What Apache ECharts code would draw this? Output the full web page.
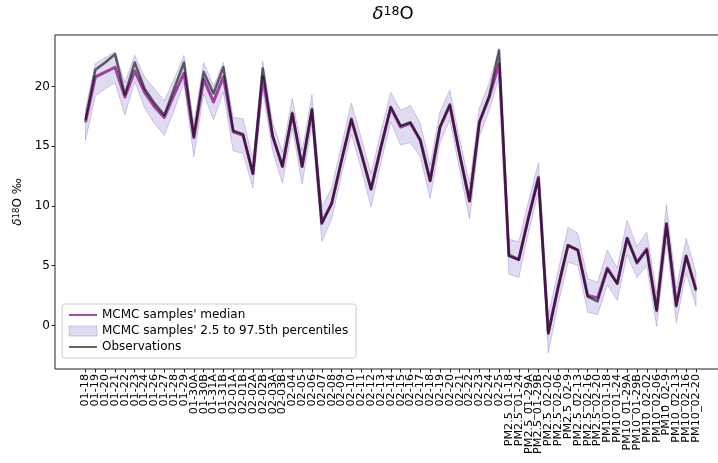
<!DOCTYPE html>
<html><head><meta charset="utf-8">
<script src="https://cdn.jsdelivr.net/npm/echarts@6/dist/echarts.min.js"></script>
<style>html,body{margin:0;padding:0;background:#fff}#c{width:718px;height:463px}</style>
</head><body><div id="c"></div>
<script>
const categories = ['01-18','01-19','01-20','01-21','01-22','01-23','01-24','01-26','01-27','01-28','01-29',
  '01-30A','01-30B','01-31A','01-31B','02-01A','02-01B','02-02A','02-02B','02-03A','02-03B',
  '02-04','02-05','02-06','02-07','02-08','02-09','02-10','02-11','02-12','02-13','02-14','02-15',
  '02-16','02-17','02-18','02-19','02-20','02-21','02-22','02-23','02-24','02-25',
  'PM2.5_01-18','PM2.5_01-24','PM2.5_01-29A','PM2.5_01-29B','PM2.5_02-02','PM2.5_02-06','PM2.5_02-9',
  'PM2.5_02-13','PM2.5_02-16','PM2.5_02-20',
  'PM10_01-18','PM10_01-24','PM10_01-29A','PM10_01-29B','PM10_02-02','PM10_02-06','PM10_02-9',
  'PM10_02-13','PM10_02-16','PM10_02-20'];
const median = [17.0,20.8,21.2,21.6,19.1,21.3,19.5,18.3,17.4,19.3,21.1,
  15.7,20.6,18.7,20.8,16.2,15.9,12.7,20.8,15.8,13.3,
  17.7,13.3,18.0,8.6,10.2,13.8,17.2,14.4,11.4,14.9,18.2,16.6,
  16.9,15.5,12.1,16.6,18.4,14.3,10.4,17.0,19.1,21.9,
  5.9,5.5,9.1,12.4,-0.6,3.2,6.7,6.3,2.5,2.3,
  4.8,3.5,7.3,5.3,6.4,1.3,8.5,1.7,5.8,3.0];
const observations = [17.2,21.4,22.0,22.7,19.3,22.0,19.8,18.6,17.6,19.8,22.0,
  15.8,21.2,19.4,21.6,16.3,16.0,12.7,21.5,15.9,13.3,
  17.8,13.3,18.1,8.5,10.2,13.8,17.3,14.4,11.4,14.9,18.3,16.7,
  17.0,15.5,12.1,16.6,18.5,14.3,10.4,17.0,19.2,23.0,
  5.8,5.5,9.0,12.3,-0.7,3.2,6.7,6.3,2.4,2.0,
  4.7,3.5,7.3,5.2,6.3,1.2,8.5,1.6,5.8,2.9];
const lower = [15.5,19.2,19.8,20.3,17.6,20.4,18.2,16.9,15.9,18.0,20.3,
  14.1,19.4,17.2,19.5,14.6,14.4,11.5,19.7,14.6,11.9,
  16.5,11.8,16.8,7.0,8.9,12.6,16.0,13.1,9.9,13.6,17.0,15.1,
  15.3,14.1,10.6,15.3,17.2,13.0,8.9,15.8,18.0,20.8,
  4.3,4.0,7.8,11.2,-2.3,1.8,5.3,5.0,1.1,0.9,
  3.4,2.1,5.9,4.0,5.0,-0.1,7.0,0.2,4.4,1.6];
const upper = [18.1,21.9,22.4,22.9,20.3,22.6,20.8,19.8,18.8,20.6,22.6,
  16.9,22.0,20.0,22.0,17.4,17.3,13.9,22.1,17.0,14.5,
  19.0,14.6,19.3,9.9,11.5,15.1,18.6,15.7,12.7,16.2,19.5,18.0,
  18.4,16.9,13.4,17.9,19.7,15.6,11.8,18.2,20.3,23.2,
  7.2,7.0,10.4,13.6,0.8,4.6,8.2,7.7,3.9,3.6,
  6.3,4.8,8.8,6.6,7.8,2.6,10.1,3.1,7.3,4.4];
const yTicks = [0,5,10,15,20];

const N_MED = "MCMC samples' median";
const N_BAND = "MCMC samples' 2.5 to 97.5th percentiles";
const N_OBS = 'Observations';
const FONT = 'DejaVu Sans';
const bandFill = 'rgba(120,90,190,0.22)';
const bandEdge = 'rgba(120,90,190,0.30)';
const medColor = 'rgba(128,0,128,0.7)';
const obsColor = 'rgba(0,0,0,0.6)';
const Y_MIN = -3.65, Y_MAX = 24.3;

const chart = echarts.init(document.getElementById('c'), null, {renderer: 'canvas'});
const option = {
  animation: false,
  backgroundColor: '#fff',
  textStyle: {fontFamily: FONT},
  title: {
    text: '{d|δ}{s|18}{o|O}', left: 393, top: 5, textAlign: 'center', padding: 0,
    textStyle: {fontWeight: 'normal', rich: {
      d: {fontSize: 18, fontStyle: 'italic', fontWeight: 'normal', fontFamily: FONT, color: '#000', verticalAlign: 'bottom'},
      s: {fontSize: 12.5, fontWeight: 'normal', fontFamily: FONT, color: '#000', verticalAlign: 'top'},
      o: {fontSize: 18, fontWeight: 'normal', fontFamily: FONT, color: '#000', verticalAlign: 'bottom'}
    }}
  },
  grid: [
    // data area (matplotlib 5% x-margins -> points span 85.5..696)
    {left: 85.5, top: 35, width: 610.5, height: 334, show: false, containLabel: false, outerBoundsMode: 'none'},
    // axes frame
    {left: 55, top: 35, width: 671, height: 334, show: true, borderColor: '#222', borderWidth: 1,
      backgroundColor: 'transparent', containLabel: false, outerBoundsMode: 'none'}
  ],
  legend: {
    orient: 'vertical', left: 62, top: 304, padding: [5, 8, 5, 6], itemGap: 4,
    itemWidth: 28, itemHeight: 10,
    backgroundColor: 'rgba(255,255,255,0.8)', borderColor: '#cccccc', borderWidth: 1, borderRadius: 3,
    textStyle: {fontSize: 12, color: '#000', fontFamily: FONT},
    data: [
      {name: N_MED, itemStyle: {opacity: 0}},
      {name: N_BAND, icon: 'rect', itemStyle: {color: bandFill, borderColor: bandEdge, borderWidth: 1}},
      {name: N_OBS, itemStyle: {opacity: 0}}
    ]
  },
  xAxis: [
    {
      gridIndex: 0, type: 'category', data: categories, boundaryGap: false,
      axisLine: {show: false, onZero: false}, splitLine: {show: false},
      axisTick: {show: true, interval: 0, length: 3.5, lineStyle: {color: '#222'}},
      axisLabel: {interval: 0, rotate: 90, fontSize: 11.2, color: '#000', margin: 5, fontFamily: FONT}
    },
    {gridIndex: 1, type: 'value', show: false, min: 0, max: 1}
  ],
  yAxis: [
    {gridIndex: 0, type: 'value', min: Y_MIN, max: Y_MAX, show: false, splitLine: {show: false}},
    {
      gridIndex: 1, type: 'value', min: Y_MIN, max: Y_MAX,
      name: '{a|δ}{s|18}{b|O ‰}', nameLocation: 'middle', nameGap: 29, nameRotate: 90,
      nameTextStyle: {color: '#000', rich: {
        a: {fontSize: 12, fontStyle: 'italic', fontFamily: FONT, color: '#000', verticalAlign: 'bottom'},
        s: {fontSize: 8.5, fontFamily: FONT, color: '#000', verticalAlign: 'top'},
        b: {fontSize: 12, fontFamily: FONT, color: '#000', verticalAlign: 'bottom'}
      }},
      axisLine: {show: false, onZero: false}, splitLine: {show: false},
      axisTick: {show: true, customValues: yTicks, length: 3.5, lineStyle: {color: '#222'}},
      axisLabel: {customValues: yTicks, fontSize: 12, color: '#000', margin: 5, fontFamily: FONT,
        showMinLabel: true, showMaxLabel: true}
    }
  ],
  series: [
    {
      type: 'custom', name: N_BAND, silent: true, z: 1, xAxisIndex: 0, yAxisIndex: 0,
      itemStyle: {color: bandFill},
      data: lower.map((v, i) => [i, v, upper[i]]),
      encode: {x: 0, y: [1, 2]},
      renderItem: function (params, api) {
        if (params.dataIndex !== 0) return null;
        const pts = [];
        for (let i = 0; i < upper.length; i++) pts.push(api.coord([i, upper[i]]));
        for (let i = lower.length - 1; i >= 0; i--) pts.push(api.coord([i, lower[i]]));
        return {type: 'polygon', shape: {points: pts}, style: {fill: bandFill, stroke: bandEdge, lineWidth: 1}};
      }
    },
    {
      type: 'line', name: N_MED, z: 2, symbol: 'none', xAxisIndex: 0, yAxisIndex: 0,
      data: median,
      itemStyle: {color: medColor},
      lineStyle: {color: medColor, width: 3, join: 'round'}
    },
    {
      type: 'line', name: N_OBS, z: 3, symbol: 'none', xAxisIndex: 0, yAxisIndex: 0,
      data: observations,
      itemStyle: {color: obsColor},
      lineStyle: {color: obsColor, width: 2.5, join: 'round'}
    }
  ]
};
chart.setOption(option);
</script></body></html>
